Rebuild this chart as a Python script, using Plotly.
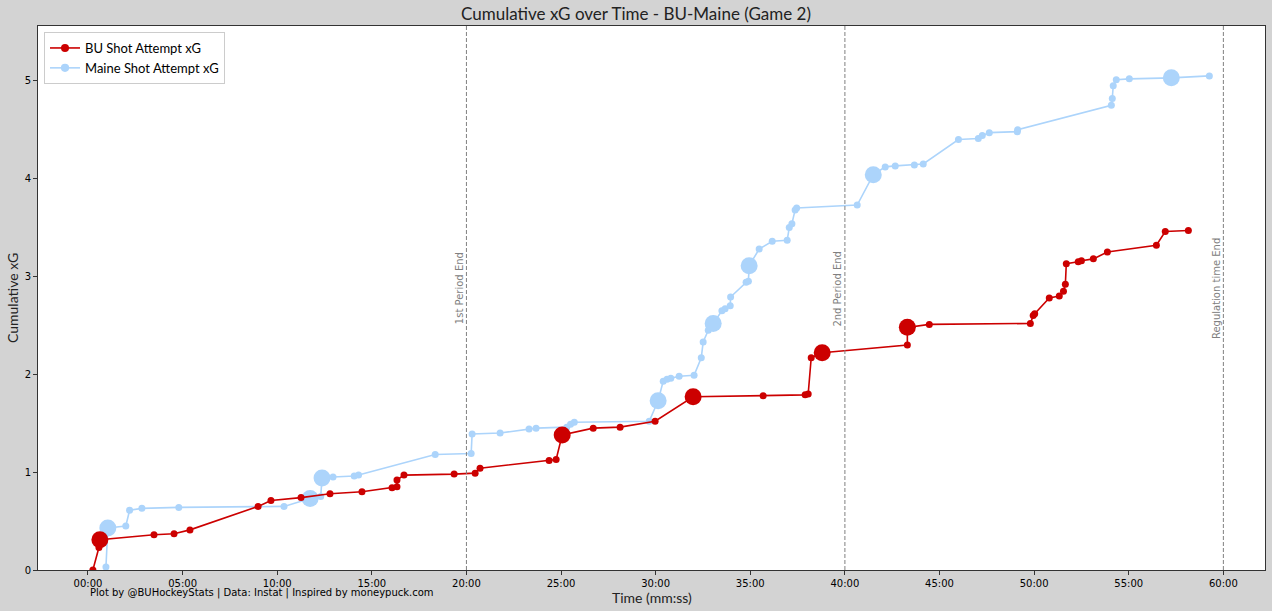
import plotly.graph_objects as go

# ---- data (time in minutes, cumulative xG) ----
bu_time = [0.26, 0.58, 0.63, 3.49, 4.55, 5.39, 8.99, 9.67, 11.26, 12.79, 14.48, 16.07,
           16.33, 16.33, 16.70, 19.35, 20.46, 20.72, 24.37, 24.74, 25.06, 26.70, 28.12, 29.97,
           31.98, 35.68, 37.90, 38.06, 38.22, 38.80, 43.30, 43.30, 44.46, 49.80, 49.95, 50.03,
           50.80, 51.33, 51.55, 51.65, 51.70, 52.33, 52.50, 53.13, 53.87, 56.46, 56.93, 58.15]
bu_xg = [0.0, 0.23, 0.31, 0.36, 0.37, 0.41, 0.65, 0.71, 0.74, 0.78, 0.80, 0.84,
         0.85, 0.92, 0.97, 0.98, 0.99, 1.04, 1.12, 1.13, 1.38, 1.45, 1.46, 1.52,
         1.77, 1.78, 1.79, 1.80, 2.17, 2.22, 2.30, 2.48, 2.51, 2.52, 2.60, 2.62,
         2.78, 2.80, 2.85, 2.92, 3.13, 3.15, 3.16, 3.18, 3.25, 3.32, 3.46, 3.47]
bu_goal = [0, 0, 1, 0, 0, 0, 0, 0, 0, 0, 0, 0,
           0, 0, 0, 0, 0, 0, 0, 0, 1, 0, 0, 0,
           1, 0, 0, 0, 0, 1, 0, 1, 0, 0, 0, 0,
           0, 0, 0, 0, 0, 0, 0, 0, 0, 0, 0, 0]

maine_time = [0.95, 1.05, 2.00, 2.20, 2.85, 4.80, 10.36, 11.74, 12.30, 12.37, 12.95, 14.07,
              14.30, 18.35, 20.25, 20.30, 21.78, 23.31, 23.68, 25.30, 25.50, 25.70, 29.66, 30.13,
              30.40, 30.60, 30.80, 31.24, 32.03, 32.41, 32.51, 32.78, 33.04, 33.50, 33.67, 33.94,
              33.96, 34.78, 34.90, 34.94, 35.47, 36.16, 36.95, 37.06, 37.20, 37.37, 37.45, 40.65,
              41.50, 42.13, 42.66, 43.67, 44.14, 46.00, 47.05, 47.26, 47.63, 49.11, 49.13, 54.08,
              54.13, 54.18, 54.34, 55.03, 57.25, 59.26]
maine_xg = [0.03, 0.43, 0.45, 0.61, 0.63, 0.64, 0.65, 0.73, 0.75, 0.94, 0.95, 0.96,
            0.97, 1.18, 1.19, 1.39, 1.40, 1.44, 1.45, 1.46, 1.49, 1.51, 1.52, 1.73,
            1.93, 1.95, 1.96, 1.98, 1.99, 2.17, 2.33, 2.45, 2.52, 2.65, 2.67, 2.70,
            2.79, 2.94, 2.95, 3.11, 3.28, 3.36, 3.37, 3.50, 3.54, 3.68, 3.70, 3.73,
            4.04, 4.12, 4.13, 4.14, 4.15, 4.40, 4.41, 4.44, 4.47, 4.48, 4.50, 4.75,
            4.82, 4.95, 5.01, 5.02, 5.03, 5.05]
maine_goal = [0, 1, 0, 0, 0, 0, 0, 1, 0, 1, 0, 0,
              0, 0, 0, 0, 0, 0, 0, 0, 0, 0, 0, 1,
              0, 0, 0, 0, 0, 0, 0, 0, 1, 0, 0, 0,
              0, 0, 0, 1, 0, 0, 0, 0, 0, 0, 0, 0,
              1, 0, 0, 0, 0, 0, 0, 0, 0, 0, 0, 0,
              0, 0, 0, 0, 1, 0]

tick_vals = [0, 5, 10, 15, 20, 25, 30, 35, 40, 45, 50, 55, 60]
tick_text = ["00:00", "05:00", "10:00", "15:00", "20:00", "25:00", "30:00",
             "35:00", "40:00", "45:00", "50:00", "55:00", "60:00"]
period_ends = [20, 40, 60]
period_labels = ["1st Period End", "2nd Period End", "Regulation time End"]

RED = "#cc0000"
BLUE = "#acd4fb"
SMALL, BIG = 7, 17

W, H = 1272, 611
ML, MR, MT, MB = 38, 7, 26, 41
PW, PH = W - ML - MR, H - MT - MB

fig = go.Figure()
fig.add_trace(go.Scatter(
    x=maine_time, y=maine_xg, mode="lines+markers", name="Maine Shot Attempt xG",
    line=dict(color=BLUE, width=1.6),
    marker=dict(color=BLUE, size=[BIG if g else SMALL for g in maine_goal], opacity=1,
                line=dict(width=0)),
    legendrank=2,
))
fig.add_trace(go.Scatter(
    x=bu_time, y=bu_xg, mode="lines+markers", name="BU Shot Attempt xG",
    line=dict(color=RED, width=1.6),
    marker=dict(color=RED, size=[BIG if g else SMALL for g in bu_goal], opacity=1,
                line=dict(width=0)),
    legendrank=1,
))

for xv, lab in zip(period_ends, period_labels):
    fig.add_shape(type="line", xref="x", yref="paper", x0=xv, x1=xv, y0=0, y1=1,
                  line=dict(color="gray", width=1, dash="4px,2px"))
    fig.add_annotation(x=xv, y=2.88, xref="x", yref="y", text=lab, textangle=-90,
                       showarrow=False, xanchor="right", yanchor="middle",
                       font=dict(family="DejaVu Sans", size=10, color="gray"))

fig.add_annotation(x=(88 - ML) / PW, y=(H - MB - 593) / PH, xref="paper", yref="paper",
                   text="Plot by @BUHockeyStats | Data: Instat | Inspired by moneypuck.com",
                   showarrow=False, xanchor="left", yanchor="middle",
                   font=dict(family="DejaVu Sans", size=10, color="black"))
# axis titles
fig.add_annotation(x=0.5, y=(H - MB - 597) / PH, xref="paper", yref="paper",
                   text="Time (mm:ss)", showarrow=False, xanchor="center", yanchor="middle",
                   font=dict(family="Lato", size=14, color="#222"))
fig.add_annotation(x=(12 - ML) / PW, y=(H - MB - 298) / PH, xref="paper", yref="paper",
                   text="Cumulative xG", textangle=-90, showarrow=False,
                   xanchor="center", yanchor="middle",
                   font=dict(family="Lato", size=14, color="#222"))

fig.update_layout(
    width=W, height=H,
    margin=dict(l=ML, r=MR, t=MT, b=MB, autoexpand=False),
    paper_bgcolor="#d3d3d3", plot_bgcolor="white",
    title=dict(text="Cumulative xG over Time - BU-Maine (Game 2)", x=0.5, xanchor="center",
               y=1 - 14 / H, yanchor="middle", yref="container",
               font=dict(family="Lato", size=17, color="#222")),
    showlegend=True,
    legend=dict(x=(44 - ML) / PW, y=1 - (32 - MT) / PH, xanchor="left", yanchor="top",
                bgcolor="white", bordercolor="#cccccc", borderwidth=1,
                font=dict(family="Lato", size=13, color="black")),
    xaxis=dict(range=[-2.64, 62.2], tickvals=tick_vals, ticktext=tick_text, automargin=False,
               showgrid=False, zeroline=False, showline=True, mirror=True,
               linecolor="#333", linewidth=1, ticks="outside", ticklen=4, tickcolor="#333",
               tickfont=dict(family="DejaVu Sans", size=10, color="black")),
    yaxis=dict(range=[0, 5.56], tickvals=[0, 1, 2, 3, 4, 5], automargin=False,
               showgrid=False, zeroline=False, showline=True, mirror=True,
               linecolor="#333", linewidth=1, ticks="outside", ticklen=4, tickcolor="#333",
               tickfont=dict(family="DejaVu Sans", size=10, color="black")),
)

fig.write_html(
    "out.html",
    config={"displayModeBar": False},
    post_script="document.body.style.margin='0';document.body.style.padding='0';"
                "document.body.style.background='#d3d3d3';",
)
